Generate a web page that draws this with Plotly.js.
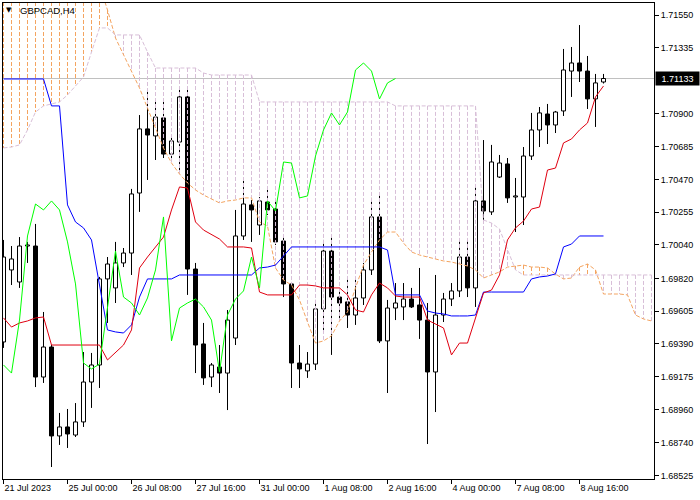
<!DOCTYPE html>
<html><head><meta charset="utf-8">
<script src="https://cdn.plot.ly/plotly-3.0.1.min.js"></script>
<style>html,body{margin:0;padding:0;background:#fff}#chart{width:700px;height:500px}</style>
</head><body><div id="chart"></div>
<script>
const symbolTitle = 'GBPCAD,H4';
const xTickIdx = [0, 8, 16, 24, 32, 40, 48, 56, 64, 72];
const xTickText = ['21 Jul 2023','25 Jul 00:00','26 Jul 08:00','27 Jul 16:00','31 Jul 00:00','1 Aug 08:00','2 Aug 16:00','4 Aug 00:00','7 Aug 08:00','8 Aug 16:00'];
const yTickVals = [1.71550,1.71335,1.70900,1.70685,1.70470,1.70255,1.70040,1.69820,1.69605,1.69390,1.69175,1.68960,1.68740,1.68525];
const bidPrice = 1.71133;

const open = [
1.69403,1.69876,1.69797,1.70033,1.70033,1.69173,1.69370,1.68786,1.68845,1.68792,
1.68878,1.69140,1.69252,1.69817,1.69758,1.69922,1.69987,1.70381,1.70802,1.70756,
1.70874,1.70637,1.70716,1.71012,1.69882,1.69390,1.69173,1.69239,1.69199,1.69429,
1.70099,1.70303,1.70171,1.70322,1.70276,1.70066,1.69784,1.69265,1.69213,1.69258,
1.69620,1.70000,1.69698,1.69666,1.69580,1.69692,1.69876,1.70224,1.69410,1.69626,
1.69633,1.69685,1.69646,1.69547,1.69206,1.69580,1.69685,1.69738,1.69961,1.69758,
1.70329,1.70257,1.70486,1.70572,1.70355,1.70355,1.70624,1.70795,1.70900,1.70828,
1.70920,1.71182,1.71235,1.71182,1.70999,1.71110];
const high = [
1.70073,1.70033,1.70092,1.70060,1.70178,1.69600,1.69383,1.68937,1.68963,1.69002,
1.69337,1.69331,1.69830,1.69961,1.70060,1.70020,1.70408,1.70893,1.71064,1.71005,
1.71005,1.70762,1.71077,1.71077,1.69922,1.69528,1.69265,1.69383,1.69613,1.70270,
1.70467,1.70335,1.70355,1.70401,1.70335,1.70099,1.69797,1.69383,1.69337,1.69679,
1.70073,1.70112,1.69758,1.69830,1.69823,1.69922,1.70349,1.70368,1.69679,1.69790,
1.69790,1.69758,1.69889,1.69659,1.69843,1.69725,1.69790,1.70073,1.70073,1.70434,
1.70729,1.70697,1.70631,1.70611,1.70480,1.70683,1.70907,1.70946,1.70966,1.70920,
1.71327,1.71340,1.71484,1.71281,1.71163,1.71163];
const low = [
1.69364,1.69777,1.69758,1.69922,1.69107,1.69134,1.68582,1.68727,1.68707,1.68779,
1.68845,1.68970,1.69101,1.69528,1.69659,1.69895,1.69843,1.70257,1.70467,1.70598,
1.70611,1.70611,1.70532,1.69712,1.69199,1.69121,1.69107,1.69068,1.68956,1.69383,
1.70073,1.70060,1.70106,1.70237,1.70040,1.69698,1.69101,1.69101,1.69167,1.69219,
1.69462,1.69318,1.69547,1.69495,1.69515,1.69646,1.69843,1.69396,1.69068,1.69547,
1.69547,1.69626,1.69423,1.68733,1.68943,1.69534,1.69639,1.69698,1.69698,1.69633,
1.70191,1.70237,1.70480,1.70316,1.70125,1.70171,1.70598,1.70683,1.70703,1.70775,
1.70887,1.71012,1.71110,1.70933,1.70815,1.71100];
const close = [
1.69961,1.69948,1.70033,1.70040,1.69173,1.69370,1.68786,1.68845,1.68799,1.68878,
1.69140,1.69252,1.69817,1.69915,1.69922,1.69987,1.70375,1.70802,1.70762,1.70880,
1.70637,1.70723,1.71012,1.69882,1.69383,1.69167,1.69252,1.69199,1.69547,1.70099,
1.70309,1.70270,1.70329,1.70270,1.70060,1.69784,1.69265,1.69226,1.69258,1.69620,
1.70000,1.69698,1.69659,1.69580,1.69692,1.69876,1.70224,1.69410,1.69626,1.69659,
1.69685,1.69633,1.69547,1.69206,1.69580,1.69685,1.69738,1.69961,1.69758,1.70329,
1.70263,1.70585,1.70578,1.70349,1.70362,1.70624,1.70795,1.70907,1.70828,1.70913,
1.71189,1.71235,1.71182,1.70999,1.71104,1.71133];

const tenkan = [
1.69561,1.69501,1.69528,1.69541,1.69561,1.69567,1.69383,1.69383,1.69383,1.69383,
1.69383,1.69383,1.69383,1.69285,1.69337,1.69383,1.69482,1.69889,1.69961,1.70027,
1.70092,1.70270,1.70421,1.70414,1.70191,1.70138,1.70106,1.70079,1.70027,1.70027,
1.70027,1.70020,1.69731,1.69712,1.69712,1.69712,1.69712,1.69777,1.69777,1.69771,
1.69758,1.69758,1.69758,1.69712,1.69613,1.69600,1.69712,1.69790,1.69758,1.69705,
1.69698,1.69698,1.69698,1.69547,1.69521,1.69495,1.69318,1.69396,1.69396,1.69561,
1.69725,1.69744,1.69843,1.70073,1.70152,1.70197,1.70276,1.70289,1.70532,1.70545,
1.70710,1.70736,1.70795,1.70841,1.71012,1.71084];
const kijun = [
1.71130,1.71130,1.71130,1.71130,1.71130,1.71130,1.70953,1.70953,1.70303,1.70191,
1.70152,1.70073,1.69777,1.69482,1.69469,1.69462,1.69515,1.69698,1.69817,1.69817,
1.69817,1.69817,1.69843,1.69843,1.69843,1.69843,1.69843,1.69843,1.69843,1.69843,
1.69843,1.69843,1.69889,1.69895,1.69908,1.69968,1.70027,1.70027,1.70027,1.70027,
1.70027,1.70027,1.70027,1.70027,1.70027,1.70027,1.70027,1.70027,1.70007,1.69712,
1.69712,1.69712,1.69712,1.69606,1.69593,1.69587,1.69574,1.69574,1.69574,1.69580,
1.69731,1.69731,1.69731,1.69731,1.69731,1.69731,1.69817,1.69830,1.69836,1.69850,
1.70027,1.70046,1.70099,1.70099,1.70099,1.70099];
const chikou = [
1.69252,1.69199,1.69547,1.70099,1.70309,1.70270,1.70329,1.70270,1.70060,1.69784,
1.69265,1.69226,1.69258,1.69620,1.70000,1.69698,1.69659,1.69580,1.69692,1.69876,
1.70224,1.69410,1.69626,1.69659,1.69685,1.69633,1.69547,1.69206,1.69580,1.69685,
1.69738,1.69961,1.69758,1.70329,1.70263,1.70585,1.70578,1.70349,1.70362,1.70624,
1.70795,1.70907,1.70828,1.70913,1.71189,1.71235,1.71182,1.70999,1.71104,1.71133];
const spanA = [
1.71911,1.71911,1.71911,1.71911,1.71911,1.71911,1.71911,1.71911,1.71911,1.71911,
1.71911,1.71911,1.71747,1.71583,1.71399,1.71287,1.71176,1.71071,1.70939,1.70808,
1.70677,1.70578,1.70506,1.70447,1.70401,1.70368,1.70342,1.70316,1.70329,1.70335,
1.70349,1.70349,1.70191,1.70165,1.69889,1.69810,1.69777,1.69679,1.69534,1.69396,
1.69410,1.69443,1.69541,1.69600,1.69758,1.69908,1.69994,1.70073,1.70125,1.70125,
1.70053,1.69994,1.69974,1.69961,1.69948,1.69935,1.69928,1.69915,1.69902,1.69876,
1.69823,1.69843,1.69863,1.69895,1.69902,1.69908,1.69895,1.69895,1.69889,1.69849,
1.69817,1.69823,1.69895,1.69915,1.69876,1.69718,1.69718,1.69718,1.69712,1.69580,
1.69554,1.69541];
const spanB = [
1.70677,1.70683,1.70697,1.70795,1.70913,1.70953,1.70966,1.70979,1.71025,1.71084,
1.71143,1.71307,1.71465,1.71465,1.71419,1.71419,1.71419,1.71419,1.71307,1.71202,
1.71202,1.71202,1.71202,1.71202,1.71202,1.71169,1.71156,1.71156,1.71156,1.71156,
1.71156,1.71156,1.70979,1.70979,1.70979,1.70979,1.70979,1.70979,1.70979,1.70979,
1.70979,1.70979,1.70979,1.70979,1.70979,1.70979,1.70979,1.70979,1.70979,1.70953,
1.70953,1.70953,1.70953,1.70953,1.70953,1.70953,1.70953,1.70953,1.70953,1.70953,
1.70204,1.70184,1.70145,1.70007,1.69876,1.69843,1.69843,1.69843,1.69843,1.69843,
1.69843,1.69843,1.69843,1.69843,1.69843,1.69843,1.69843,1.69843,1.69843,1.69843,
1.69843,1.69843];

// ---- build traces ----
const idx = open.map((_, i) => i);
const bodyBase = open.map((o, i) => Math.min(o, close[i]));
const bodyH = open.map((o, i) => Math.abs(close[i] - o));
const bodyCol = open.map((o, i) => close[i] >= o ? '#ffffff' : '#000000');

const wx = [], wy = [];
for (let i = 0; i < open.length; i++) {
  const top = Math.max(open[i], close[i]), bot = Math.min(open[i], close[i]);
  wx.push(i, i, null, i, i, null);
  wy.push(high[i], top, null, bot, low[i], null);
}
const sx = [], sy = [], tx = [], ty = [];
for (let i = 0; i < spanA.length; i++) {
  if (spanA[i] >= spanB[i]) { sx.push(i, i, null); sy.push(spanA[i], spanB[i], null); }
  else { tx.push(i, i, null); ty.push(spanB[i], spanA[i], null); }
}
const spanIdx = spanA.map((_, i) => i);
const chIdx = chikou.map((_, i) => i);

const dotDash = '4px,2px';
const traces = [
  {type: 'bar', x: idx, y: bodyH, base: bodyBase, width: 0.5,
   marker: {color: bodyCol, line: {color: '#000', width: 1}}, hoverinfo: 'skip'},
  {type: 'scatter', mode: 'lines', x: wx, y: wy, line: {color: '#000', width: 1}, hoverinfo: 'skip'},
  {type: 'scatter', mode: 'lines', x: sx, y: sy, line: {color: '#F4A460', width: 1, dash: dotDash}, hoverinfo: 'skip'},
  {type: 'scatter', mode: 'lines', x: tx, y: ty, line: {color: '#D8BFD8', width: 1, dash: dotDash}, hoverinfo: 'skip'},
  {type: 'scatter', mode: 'lines', x: spanIdx, y: spanA, line: {color: '#F4A460', width: 1, dash: dotDash}, hoverinfo: 'skip'},
  {type: 'scatter', mode: 'lines', x: spanIdx, y: spanB, line: {color: '#D8BFD8', width: 1, dash: dotDash}, hoverinfo: 'skip'},
  {type: 'scatter', mode: 'lines', x: idx, y: kijun, line: {color: '#0000FF', width: 1}, hoverinfo: 'skip'},
  {type: 'scatter', mode: 'lines', x: idx, y: tenkan, line: {color: '#E00010', width: 1}, hoverinfo: 'skip'},
  {type: 'scatter', mode: 'lines', x: chIdx, y: chikou, line: {color: '#00FF00', width: 1}, hoverinfo: 'skip'}
];

const W = 651, H = 476; // plot area in px
const px2x = p => (p - 3) / W;
const px2y = p => 1 - (p - 3) / H;
const fontFam = 'Liberation Sans, Arial, sans-serif';

const layout = {
  width: 700, height: 500,
  margin: {l: 3, r: 46, t: 3, b: 21, pad: 0},
  paper_bgcolor: '#ffffff', plot_bgcolor: '#ffffff',
  showlegend: false, barmode: 'overlay',
  font: {family: fontFam, size: 9, color: '#000'},
  xaxis: {
    range: [-0.0625, 81.3125], fixedrange: true,
    showgrid: false, zeroline: false,
    showline: true, mirror: true, linecolor: '#000', linewidth: 1,
    ticks: 'outside', ticklen: 4, tickcolor: '#000', tickwidth: 1,
    tickmode: 'array', tickvals: xTickIdx, ticktext: xTickText,
    ticklabelposition: 'outside right',
    tickfont: {family: fontFam, size: 9, color: '#000'}
  },
  yaxis: {
    side: 'right',
    range: [1.685033, 1.716288], fixedrange: true,
    showgrid: false, zeroline: false,
    showline: true, mirror: true, linecolor: '#000', linewidth: 1,
    ticks: 'outside', ticklen: 4, tickcolor: '#000', tickwidth: 1,
    tickmode: 'array', tickvals: yTickVals, ticktext: yTickVals.map(v => v.toFixed(5)),
    tickfont: {family: fontFam, size: 9, color: '#000'}
  },
  shapes: [
    {type: 'line', xref: 'paper', x0: 0, x1: 1, yref: 'y', y0: bidPrice, y1: bidPrice,
     line: {color: '#c0c0c0', width: 1}, layer: 'below'}
  ],
  annotations: [
    {xref: 'paper', yref: 'paper', x: px2x(9), y: px2y(10), xanchor: 'center', yanchor: 'middle',
     text: '▼', showarrow: false, font: {family: 'DejaVu Sans', size: 7, color: '#000'}},
    {xref: 'paper', yref: 'paper', x: px2x(18), y: px2y(10.5), xanchor: 'left', yanchor: 'middle',
     text: symbolTitle, showarrow: false, font: {family: fontFam, size: 9.5, color: '#000'}},
    {xref: 'paper', yref: 'y', x: 1, y: bidPrice, xanchor: 'left', yanchor: 'middle', xshift: 1,
     text: bidPrice.toFixed(5), showarrow: false, bgcolor: '#000', borderpad: 1,
     width: 41, height: 11, align: 'center',
     font: {family: fontFam, size: 9, color: '#fff'}}
  ]
};

Plotly.newPlot('chart', traces, layout, {displayModeBar: false, staticPlot: true});
</script>
</body></html>
